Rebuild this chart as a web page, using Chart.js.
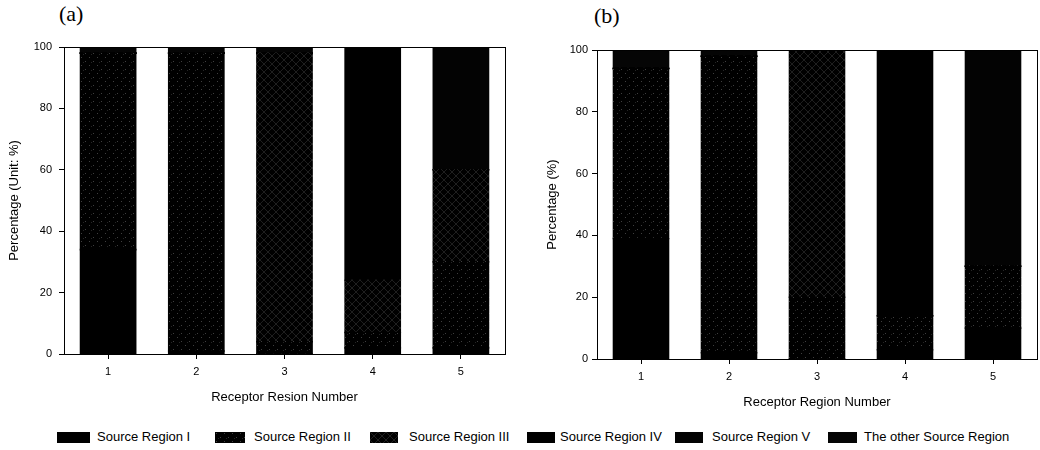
<!DOCTYPE html>
<html>
<head>
<meta charset="utf-8">
<script src="https://cdn.jsdelivr.net/npm/chart.js@4/dist/chart.umd.min.js"></script>
<style>
  html, body { margin: 0; padding: 0; background: #fff; }
  #wrap { position: relative; width: 1040px; height: 450px; overflow: hidden; font-family: "Liberation Sans", Arial, sans-serif; }
  .cv { position: absolute; top: 0; }
  .panel { position: absolute; font-family: "Liberation Serif", "DejaVu Serif", serif; font-size: 22px; color: #000; }
  .lg { position: absolute; top: 429px; font-size: 13px; color: #000; white-space: nowrap; line-height: 16px; }
  .sw { position: absolute; top: 432px; height: 11px; background: #000; }
</style>
</head>
<body>
<div id="wrap">
  <div class="panel" style="left:59px; top:1px;">(a)</div>
  <div class="panel" style="left:594px; top:3px;">(b)</div>
  <div class="cv" style="left:0; width:520px; height:420px;"><canvas id="ca"></canvas></div>
  <div class="cv" style="left:520px; width:520px; height:420px;"><canvas id="cb"></canvas></div>
  <div id="legend"></div>
</div>
<script>
// ---- data ----
const categories = ['1', '2', '3', '4', '5'];
const seriesNames = ['Source Region I', 'Source Region II', 'Source Region III', 'Source Region IV', 'Source Region V', 'The other Source Region'];
const yTicks = [0, 20, 40, 60, 80, 100];

// panel (a)
const aRegionI   = [34, 1, 0, 2, 2];
const aRegionII  = [64, 97, 4, 5, 28];
const aRegionIII = [0, 0, 94, 17, 30];
const aRegionIV  = [0, 0, 0, 76, 0];
const aRegionV   = [0, 0, 0, 0, 40];
const aOther     = [2, 2, 2, 0, 0];

// panel (b)
const bRegionI   = [39, 2, 0, 3, 10];
const bRegionII  = [55, 96, 20, 11, 20];
const bRegionIII = [0, 0, 80, 0, 0];
const bRegionIV  = [0, 0, 0, 86, 0];
const bRegionV   = [0, 0, 0, 0, 70];
const bOther     = [6, 2, 0, 0, 0];

// ---- styles (patterns) ----
function makePattern(kind) {
  const c = document.createElement('canvas');
  c.width = 8; c.height = 8;
  const g = c.getContext('2d');
  g.fillStyle = '#000';
  g.fillRect(0, 0, 8, 8);
  if (kind === 'dots') {
    g.fillStyle = 'rgba(180,180,180,0.35)';
    g.fillRect(1, 1, 1, 1);
    g.fillRect(5, 5, 1, 1);
    g.fillStyle = 'rgba(180,180,180,0.2)';
    g.fillRect(3, 6, 1, 1);
  } else if (kind === 'cross') {
    g.strokeStyle = 'rgba(150,150,150,0.3)';
    g.lineWidth = 0.7;
    g.beginPath(); g.moveTo(0, 8); g.lineTo(8, 0); g.stroke();
    g.beginPath(); g.moveTo(0, 0); g.lineTo(8, 8); g.stroke();
  }
  return c;
}
const patCanvases = [null, makePattern('dots'), makePattern('cross'), null, null, null];
const solidColors = ['#000000', '#000000', '#000000', '#000000', '#030303', '#050505'];
function fillFor(i, ctx) {
  return patCanvases[i] ? ctx.createPattern(patCanvases[i], 'repeat') : solidColors[i];
}

const framePlugin = {
  id: 'frame',
  afterDraw(chart) {
    const { ctx, chartArea: a } = chart;
    ctx.save();
    ctx.strokeStyle = '#000';
    ctx.lineWidth = 1;
    ctx.strokeRect(Math.round(a.left) + 0.5, Math.round(a.top) + 0.5, Math.round(a.right - a.left), Math.round(a.bottom - a.top));
    ctx.restore();
  }
};

function buildChart(id, seriesData, yTitle, xTitle, opts) {
  const ctx = document.getElementById(id).getContext('2d');
  const datasets = seriesData.map((vals, i) => ({
    label: seriesNames[i],
    data: vals,
    backgroundColor: fillFor(i, ctx),
    borderWidth: 0,
    inflateAmount: 0.8,
    barPercentage: 0.625,
    categoryPercentage: 1.0
  }));
  return new Chart(ctx, {
    type: 'bar',
    data: { labels: categories, datasets },
    options: {
      responsive: true,
      maintainAspectRatio: false,
      animation: false,
      layout: { padding: { left: 0, right: opts.padRight, top: opts.padTop, bottom: opts.padBottom } },
      plugins: { legend: { display: false }, tooltip: { enabled: false } },
      scales: {
        x: {
          stacked: true,
          offset: true,
          grid: { display: true, drawOnChartArea: false, drawTicks: true, tickLength: 5, color: '#000', offset: false },
          border: { display: true, color: '#000', width: 1 },
          ticks: { color: '#000', font: { family: 'Liberation Sans, Arial, sans-serif', size: 11 }, padding: 6 },
          title: { display: true, text: xTitle, color: '#000', font: { family: 'Liberation Sans, Arial, sans-serif', size: 13 }, padding: { top: 4, bottom: 4 } },
          afterFit(scale) { scale.height = opts.xHeight; }
        },
        y: {
          stacked: true,
          min: 0, max: 100,
          afterBuildTicks(scale) { scale.ticks = yTicks.map(v => ({ value: v })); },
          grid: { display: true, drawOnChartArea: false, drawTicks: true, tickLength: 5, color: '#000' },
          border: { display: true, color: '#000', width: 1 },
          ticks: { color: '#000', font: { family: 'Liberation Sans, Arial, sans-serif', size: 11 }, padding: opts.yTickPad },
          title: { display: true, text: yTitle, color: '#000', font: { family: 'Liberation Sans, Arial, sans-serif', size: 13 }, padding: { top: opts.yTitlePad, bottom: 2 } },
          afterFit(scale) { scale.width = opts.yWidth; }
        }
      }
    },
    plugins: [framePlugin]
  });
}

buildChart('ca', [aRegionI, aRegionII, aRegionIII, aRegionIV, aRegionV, aOther],
  'Percentage (Unit: %)', 'Receptor Resion Number',
  { padRight: 15, padTop: 47, padBottom: 11, xHeight: 55, yWidth: 64, yTickPad: 7, yTitlePad: 7 });

buildChart('cb', [bRegionI, bRegionII, bRegionIII, bRegionIV, bRegionV, bOther],
  'Percentage (%)', 'Receptor Region Number',
  { padRight: 3, padTop: 50, padBottom: 6, xHeight: 55, yWidth: 77, yTickPad: 4, yTitlePad: 25 });

// ---- shared legend ----
const legendSwatchX = [57, 215, 370, 527, 675, 828];
const legendSwatchW = [33, 30, 28, 28, 28, 29];
const legendTextX = [97, 254, 409, 560, 712, 864];
const lg = document.getElementById('legend');
seriesNames.forEach((name, i) => {
  const sw = document.createElement('div');
  sw.className = 'sw';
  sw.style.left = legendSwatchX[i] + 'px';
  sw.style.width = legendSwatchW[i] + 'px';
  if (patCanvases[i]) sw.style.background = 'url(' + patCanvases[i].toDataURL() + ') repeat';
  else sw.style.background = solidColors[i];
  lg.appendChild(sw);
  const t = document.createElement('div');
  t.className = 'lg';
  t.style.left = legendTextX[i] + 'px';
  t.textContent = name;
  lg.appendChild(t);
});
</script>
</body>
</html>
